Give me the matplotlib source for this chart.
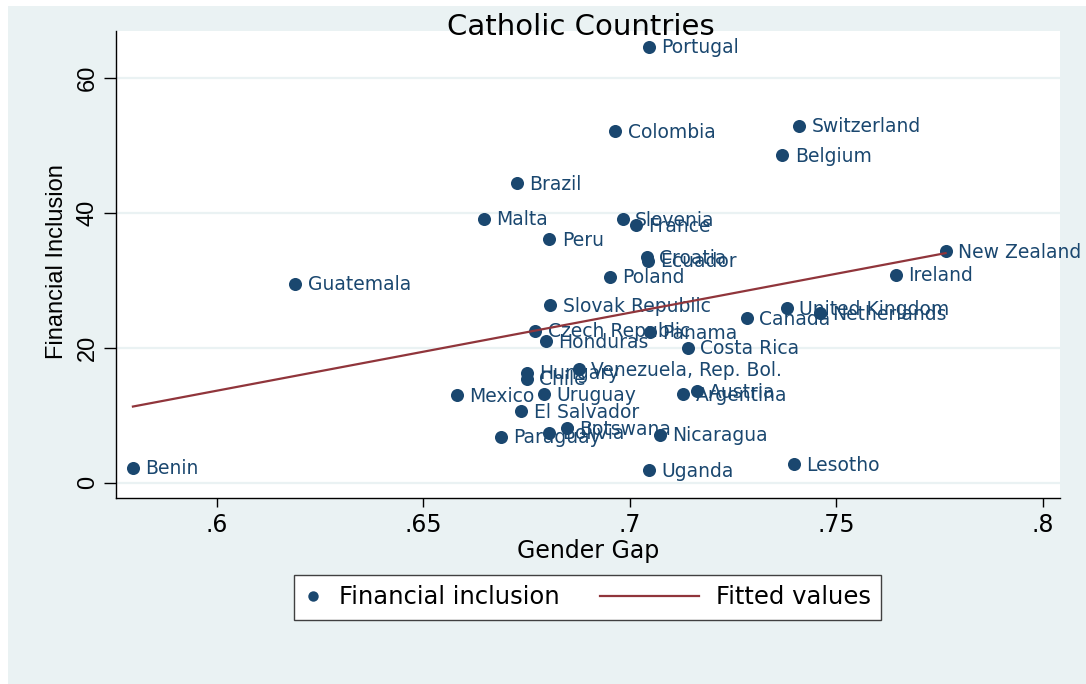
import numpy as np
import matplotlib
matplotlib.use("Agg")
import matplotlib.pyplot as plt
from matplotlib.patches import Rectangle
from matplotlib.lines import Line2D
from matplotlib.legend_handler import HandlerLine2D

plt.rcParams["font.family"] = ["DejaVu Sans"]
NARROW = ["Liberation Sans", "DejaVu Sans"]

# ---- data -------------------------------------------------------------
countries = [
    "Portugal", "Colombia", "Switzerland", "Belgium", "Brazil", "Malta",
    "Slovenia", "France", "Peru", "Croatia", "Ecuador", "New Zealand",
    "Ireland", "Poland", "Guatemala", "Slovak Republic", "United Kingdom",
    "Netherlands", "Canada", "Czech Republic", "Panama", "Honduras",
    "Costa Rica", "Venezuela, Rep. Bol.", "Hungary", "Chile", "Mexico",
    "Uruguay", "Argentina", "Austria", "El Salvador", "Botswana", "Bolivia",
    "Paraguay", "Nicaragua", "Uganda", "Lesotho", "Benin",
]
gender_gap = [
    0.7047, 0.6965, 0.7411, 0.7370, 0.6726, 0.6647,
    0.6983, 0.7015, 0.6805, 0.7041, 0.7044, 0.7765,
    0.7644, 0.6952, 0.6190, 0.6807, 0.7380,
    0.7461, 0.7283, 0.6771, 0.7049, 0.6797,
    0.7141, 0.6877, 0.6751, 0.6751, 0.6581,
    0.6792, 0.7129, 0.7162, 0.6737, 0.6848, 0.6805,
    0.6688, 0.7073, 0.7047, 0.7398, 0.5797,
]
financial_inclusion = [
    64.6, 52.1, 52.9, 48.5, 44.4, 39.1,
    39.0, 38.1, 36.1, 33.4, 32.9, 34.3,
    30.8, 30.5, 29.5, 26.3, 25.8,
    25.1, 24.4, 22.5, 22.3, 21.0,
    20.0, 16.8, 16.3, 15.4, 13.0,
    13.1, 13.1, 13.6, 10.6, 8.1, 7.4,
    6.8, 7.1, 1.9, 2.7, 2.2,
]
x_ticks = [0.6, 0.65, 0.7, 0.75, 0.8]
x_tick_labels = [".6", ".65", ".7", ".75", ".8"]
y_ticks = [0, 20, 40, 60]

# ---- style ------------------------------------------------------------
NAVY = "#1A476F"
MAROON = "#90353B"
BG = "#EAF2F3"
W, H = 1086, 684

fig = plt.figure(figsize=(W / 100, H / 100), dpi=100, facecolor="white")
fig.add_artist(Rectangle((8 / W, 0), 1 - 8 / W, 1 - 6 / H,
                         transform=fig.transFigure, facecolor=BG,
                         edgecolor="none", zorder=-10))

ax = fig.add_axes([116 / W, 1 - 498 / H, 944 / W, 467 / H])
ax.set_facecolor("white")

gx = np.asarray(gender_gap)
fy = np.asarray(financial_inclusion)

# scatter points with labels to the right
ax.plot(gx, fy, ls="none", marker="o", ms=9.4, mew=0, color=NAVY, zorder=3)
for name, x, y in zip(countries, gx, fy):
    ax.annotate(name, (x, y), xytext=(9.0, -4.8), textcoords="offset points",
                fontsize=13.5, color=NAVY, ha="left", va="baseline", zorder=3)

# linear fit
slope, intercept = np.polyfit(gx, fy, 1)
xf = np.array([gx.min(), gx.max()])
ax.plot(xf, intercept + slope * xf, color=MAROON, lw=1.6, zorder=4)

# axes
ax.set_xlim(0.5756, 0.8042)
ax.set_ylim(-2.27, 66.9)
ax.set_xticks(x_ticks)
ax.set_xticklabels(x_tick_labels)
ax.set_yticks(y_ticks)
ax.grid(axis="y", color=BG, lw=1.6)
ax.set_axisbelow(True)
for s in ("top", "right"):
    ax.spines[s].set_visible(False)
for s in ("left", "bottom"):
    ax.spines[s].set_color("black")
    ax.spines[s].set_linewidth(1.0)
ax.tick_params(axis="x", direction="out", length=6.5, width=1, pad=4.0,
               labelsize=17, colors="black")
ax.tick_params(axis="y", direction="out", length=8.5, width=1, pad=4.0,
               labelsize=17, colors="black", labelrotation=90)
for lab in ax.get_yticklabels():
    lab.set_va("center")
    lab.set_fontfamily(NARROW)

ax.set_xlabel("Gender Gap", fontsize=17)
ax.xaxis.label.set_va("baseline")
ax.xaxis.set_label_coords(0.5, (498 - 558.3) / 467)
ax.set_ylabel("Financial Inclusion", fontsize=17, fontfamily=NARROW)
ax.yaxis.label.set_va("baseline")
ax.yaxis.set_label_coords((63.3 - 116) / 944, 0.506)

fig.text(581 / W, 1 - 35 / H, "Catholic Countries", fontsize=21,
         ha="center", va="baseline", color="black", zorder=5)


# legend: narrow key box for the marker entry
class NarrowKey(HandlerLine2D):
    def __init__(self, key_width, **kw):
        super().__init__(**kw)
        self.key_width = key_width

    def legend_artist(self, legend, orig_handle, fontsize, handlebox):
        handlebox.width = self.key_width
        return super().legend_artist(legend, orig_handle, fontsize, handlebox)


dot = Line2D([], [], ls="none", marker="o", ms=7.5, mew=0, color=NAVY)
fit = Line2D([], [], color=MAROON, lw=1.6)
leg = fig.legend([dot, fit], ["Financial inclusion", "Fitted values"],
                 loc="center", bbox_to_anchor=(587.5 / W, 1 - 597.5 / H),
                 ncol=2, fontsize=17.5, frameon=True, fancybox=False,
                 framealpha=1, facecolor="white", edgecolor="#404040",
                 handlelength=4.1, handletextpad=0.7, columnspacing=1.65,
                 borderpad=0.42, handler_map={dot: NarrowKey(13)})
leg.get_frame().set_linewidth(1.0)

fig.savefig("out.png", dpi=100, facecolor=fig.get_facecolor())
